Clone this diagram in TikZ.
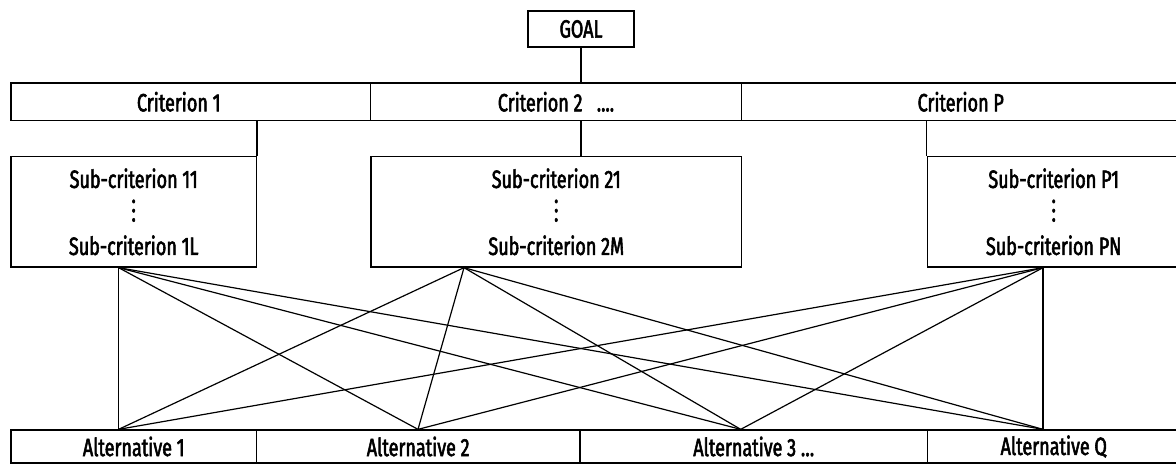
\documentclass[tikz,border=0pt]{standalone}
\usepackage{fontspec}
\newfontfamily\labfont{Fira Sans}[FakeStretch=0.72, FakeBold=2.2]
\usetikzlibrary{calc}
\newcommand{\vdotsx}{\vbox{\baselineskip=9.3pt\lineskiplimit=0pt\hbox{.}\hbox{.}\hbox{.}}}
\begin{document}
\begin{tikzpicture}[x=1pt,y=-1pt,
  box/.style={draw, line width=1.3pt, inner sep=0pt, font=\labfont\fontsize{25}{33.5}\selectfont, align=center},
  link/.style={line width=1.2pt}]
\useasboundingbox (0,0) rectangle (1176,467);
\clip (0,0) rectangle (1176,467);
% goal
\node[box, minimum width=106pt, minimum height=36pt] (goal) at (581,29) {GOAL};
% criteria
\node[box, minimum width=359.5pt, minimum height=37.5pt] (c1) at (190.75,101.75) {\hspace*{-24pt}Criterion 1};
\node[box, minimum width=371pt, minimum height=37.5pt] (c2) at (556,101.75) {Criterion 2 \ \ ....};
\node[box, minimum width=438.5pt, minimum height=37.5pt] (cP) at (960.75,101.75) {Criterion P};
% sub-criteria
\node[box, minimum width=245.4pt, minimum height=110.3pt] (s1) at (133.7,211.85) {Sub-criterion 11\\\vdotsx\\Sub-criterion 1L};
\node[box, minimum width=370.5pt, minimum height=110.3pt] (s2) at (556.25,211.85) {Sub-criterion 21\\\vdotsx\\Sub-criterion 2M};
\node[box, minimum width=252.5pt, minimum height=110.3pt] (sP) at (1053.75,211.85) {Sub-criterion P1\\\vdotsx\\Sub-criterion PN};
% alternatives
\node[box, minimum width=245.4pt, minimum height=33pt] (a1) at (133.7,446.5) {Alternative 1};
\node[box, minimum width=323.6pt, minimum height=33pt] (a2) at (418.2,446.5) {Alternative 2};
\node[box, minimum width=347.5pt, minimum height=33pt] (a3) at (753.75,446.5) {Alternative 3 \dots};
\node[box, minimum width=252.5pt, minimum height=33pt] (aQ) at (1053.75,446.5) {Alternative Q};
% tree connectors
\draw[link] (goal.south) -- (goal.south |- c2.north);
\draw[link] (s1.north east) -- (s1.north east |- c1.south);
\draw[link] (goal.south |- c2.south) -- (goal.south |- s2.north);
\draw[link] (sP.north west) -- (sP.north west |- cP.south);
% connection points
\coordinate (p1) at (s1.south west -| 118.6,0);
\coordinate (p2) at (s2.south west -| 464,0);
\coordinate (pP) at (sP.south west -| 1043,0);
\coordinate (q1) at (a1.north west -| 118.6,0);
\coordinate (q2) at (a2.north west -| 418,0);
\coordinate (q3) at (a3.north west -| 740.7,0);
\coordinate (qQ) at (aQ.north west -| 1043,0);
\foreach \p in {p1,p2,pP}{
  \foreach \q in {q1,q2,q3,qQ}{
    \draw[link] (\p) -- (\q);
  }
}
\end{tikzpicture}
\end{document}
